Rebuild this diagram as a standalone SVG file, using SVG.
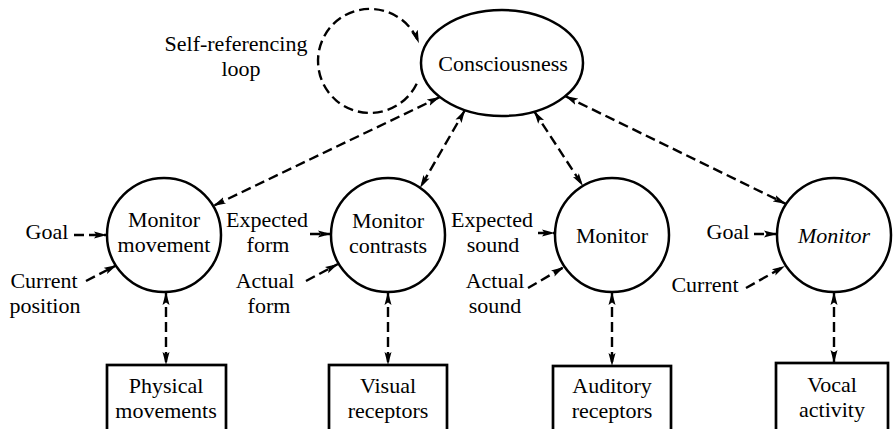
<svg xmlns="http://www.w3.org/2000/svg" width="893" height="429" viewBox="0 0 893 429">
  <style>
    text { font-family: "Liberation Serif", "Times New Roman", serif; font-size: 22px; fill: #000; text-anchor: middle; }
    .node { fill: #fff; stroke: #000; stroke-width: 2.5; }
    .box { fill: #fff; stroke: #000; stroke-width: 2.7; }
    .link { fill: none; stroke: #000; stroke-width: 2.4; stroke-dasharray: 10 5; }
    .one { marker-end: url(#head); }
    .two { marker-start: url(#head); marker-end: url(#head); }
    .ital { font-style: italic; }
  </style>
  <defs>
    <marker id="head" markerUnits="userSpaceOnUse" markerWidth="14" markerHeight="9" refX="13" refY="4.5" orient="auto-start-reverse">
      <path d="M0,1 L13,4.5 L0,8 L2.5,4.5 Z" fill="#000"/>
    </marker>
  </defs>

  <!-- connectors -->
  <g id="connectors">
    <!-- self-referencing loop around to the consciousness ellipse -->
    <path class="link one" d="M416.7,83.8 A52,52 0 1 1 418.9,43.2"/>
    <!-- consciousness to the four monitors -->
    <path class="link two" d="M440,97 L213,206"/>
    <path class="link two" d="M465,110 L420,188"/>
    <path class="link two" d="M534,111 L583,186"/>
    <path class="link two" d="M565,96 L786,204"/>
    <!-- monitors to the sensing / acting boxes -->
    <path class="link two" d="M166,292 L166,365"/>
    <path class="link two" d="M388,292 L388,365"/>
    <path class="link two" d="M612,292 L612,366"/>
    <path class="link two" d="M834,292 L834,363"/>
    <!-- inputs -->
    <path class="link one" d="M74,235 L107,235"/>
    <path class="link one" d="M86,281 L117,265"/>
    <path class="link one" d="M310,234 L331,234"/>
    <path class="link one" d="M306,281 L338,264"/>
    <path class="link one" d="M538,233 L555,233"/>
    <path class="link one" d="M528,288 L564,267"/>
    <path class="link one" d="M754,234 L777,234"/>
    <path class="link one" d="M746,288 L785,266"/>
  </g>

  <g id="loop-label">
    <text x="236" y="51">Self-referencing</text>
    <text x="241" y="76">loop</text>
  </g>

  <g id="consciousness">
    <ellipse class="node" cx="502" cy="63" rx="81" ry="53"/>
    <text x="503" y="71">Consciousness</text>
  </g>

  <g id="monitor-movement">
    <circle class="node" cx="164" cy="235" r="57"/>
    <text x="164" y="227">Monitor</text>
    <text x="164" y="252">movement</text>
  </g>

  <g id="monitor-contrasts">
    <circle class="node" cx="388" cy="235" r="57"/>
    <text x="388" y="228">Monitor</text>
    <text x="388" y="253">contrasts</text>
  </g>

  <g id="monitor-sound">
    <circle class="node" cx="612" cy="235" r="57"/>
    <text x="612" y="243">Monitor</text>
  </g>

  <g id="monitor-vocal">
    <circle class="node" cx="834" cy="235" r="57"/>
    <text class="ital" x="834" y="243">Monitor</text>
  </g>

  <g id="input-labels">
    <text x="47" y="239">Goal</text>
    <text x="44" y="288">Current</text>
    <text x="45" y="313">position</text>
    <text x="267" y="227">Expected</text>
    <text x="268" y="252">form</text>
    <text x="265" y="288">Actual</text>
    <text x="269" y="313">form</text>
    <text x="492" y="227">Expected</text>
    <text x="493" y="252">sound</text>
    <text x="495" y="288">Actual</text>
    <text x="495" y="313">sound</text>
    <text x="728" y="239">Goal</text>
    <text x="705" y="292">Current</text>
  </g>

  <g id="physical-movements">
    <rect class="box" x="107" y="365" width="119" height="80"/>
    <text x="166" y="393">Physical</text>
    <text x="166" y="418">movements</text>
  </g>

  <g id="visual-receptors">
    <rect class="box" x="329" y="365" width="118" height="80"/>
    <text x="388" y="393">Visual</text>
    <text x="388" y="418">receptors</text>
  </g>

  <g id="auditory-receptors">
    <rect class="box" x="553" y="366" width="118" height="80"/>
    <text x="612" y="393">Auditory</text>
    <text x="612" y="418">receptors</text>
  </g>

  <g id="vocal-activity">
    <rect class="box" x="776" y="363" width="112" height="80"/>
    <text x="832" y="392">Vocal</text>
    <text x="832" y="417">activity</text>
  </g>
</svg>
